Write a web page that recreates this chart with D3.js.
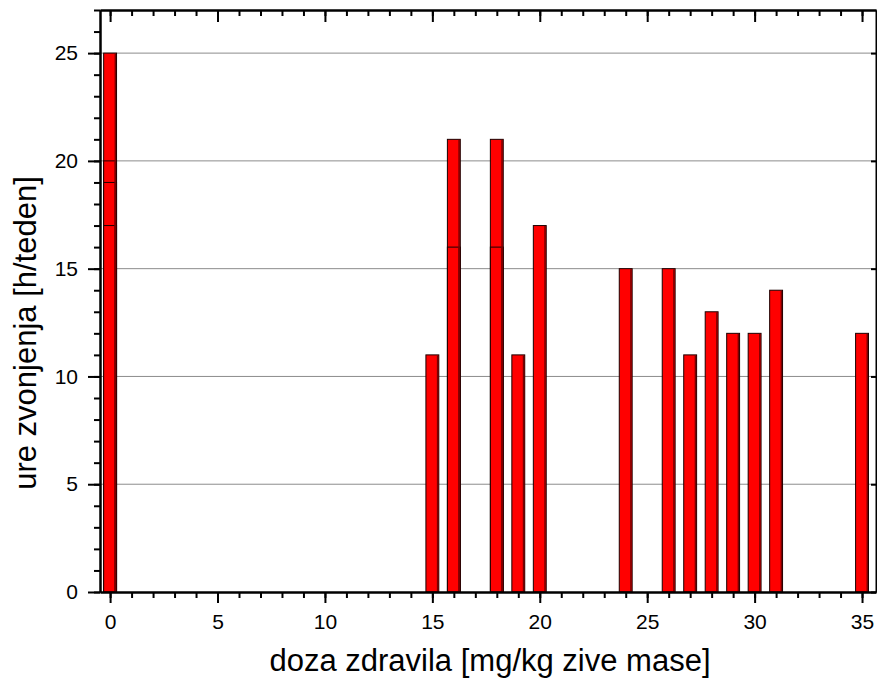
<!DOCTYPE html>
<html><head><meta charset="utf-8">
<script src="https://cdn.jsdelivr.net/npm/d3@7"></script>
<style>body{margin:0;background:#fff}svg{display:block;font-family:"Liberation Sans",Arial,sans-serif}</style>
</head><body><svg id="c" width="877" height="679"></svg>
<script>
const doses = [0,0,0,0,15,16,16,18,18,19,20,24,26,27,28,29,30,31,35];
const hours = [25,20,19,17,11,21,16,21,16,11,17,15,15,11,13,12,12,14,12];
const xTicks = [0,5,10,15,20,25,30,35];
const yTicks = [0,5,10,15,20,25];
const xMinor = d3.range(0,36,1);
const yMinor = d3.range(0,28,1);
const xTitle = "doza zdravila [mg/kg zive mase]";
const yTitle = "ure zvonjenja [h/teden]";

const svg = d3.select("#c");
const L=100,R=876,T=10,B=592;
const x = d3.scaleLinear().domain([-0.47,35.65]).range([L,R]);
const y = d3.scaleLinear().domain([0,27]).range([B,T]);
const barW = x(0.6)-x(0);

// grid
svg.append("g").selectAll("line").data(yTicks.filter(d=>d>0)).join("line")
  .attr("x1",L).attr("x2",R).attr("y1",d=>y(d)).attr("y2",d=>y(d))
  .attr("stroke","#8c8c8c").attr("stroke-width",1);

// bars
const data = doses.map((d,i)=>({x:d,v:hours[i]})).sort((a,b)=>b.v-a.v);
const bars = svg.append("g");
bars.selectAll("rect").data(data).join("rect")
  .attr("x",d=>x(d.x)-barW/2).attr("width",barW)
  .attr("y",d=>y(d.v)).attr("height",d=>y(0)-y(d.v))
  .attr("fill","#ff0000").attr("stroke","#1a0000").attr("stroke-width",1);
bars.selectAll("line").data(data).join("line")
  .attr("x1",d=>x(d.x)+barW/2-1.2).attr("x2",d=>x(d.x)+barW/2-1.2)
  .attr("y1",d=>y(d.v)+0.5).attr("y2",y(0))
  .attr("stroke","#7a0000").attr("stroke-width",1.5);

function styleAxis(g){
  g.selectAll("path.domain").attr("stroke","#000").attr("stroke-width",2);
  g.selectAll(".tick line").attr("stroke","#000").attr("stroke-width",2);
  g.selectAll("text").attr("font-size",21).attr("fill","#000").attr("font-family","Liberation Sans, Arial, sans-serif");
}
// bottom
svg.append("g").attr("transform",`translate(0,${B})`)
  .call(d3.axisBottom(x).tickValues(xMinor).tickSize(6).tickFormat("").tickSizeOuter(0)).call(styleAxis);
svg.append("g").attr("transform",`translate(0,${B})`)
  .call(d3.axisBottom(x).tickValues(xTicks).tickSize(11).tickPadding(11).tickFormat(d3.format("d")).tickSizeOuter(0)).call(styleAxis);
// top (inward)
svg.append("g").attr("transform",`translate(0,${T})`)
  .call(d3.axisTop(x).tickValues(xMinor).tickSize(-6).tickFormat("").tickSizeOuter(0)).call(styleAxis);
svg.append("g").attr("transform",`translate(0,${T})`)
  .call(d3.axisTop(x).tickValues(xTicks).tickSize(-12).tickFormat("").tickSizeOuter(0)).call(styleAxis);
// left
svg.append("g").attr("transform",`translate(${L},0)`)
  .call(d3.axisLeft(y).tickValues(yMinor).tickSize(6).tickFormat("").tickSizeOuter(0)).call(styleAxis);
svg.append("g").attr("transform",`translate(${L},0)`)
  .call(d3.axisLeft(y).tickValues(yTicks).tickSize(12).tickPadding(10).tickFormat(d3.format("d")).tickSizeOuter(0)).call(styleAxis);
// right (inward, major only)
svg.append("g").attr("transform",`translate(${R},0)`)
  .call(d3.axisRight(y).tickValues(yTicks).tickSize(-5).tickFormat("").tickSizeOuter(0)).call(styleAxis);

// titles
svg.append("text").attr("x",490).attr("y",671).attr("text-anchor","middle")
  .attr("font-size",31).attr("fill","#000").text(xTitle);
svg.append("text").attr("transform","translate(25,333) rotate(-90)").attr("text-anchor","middle")
  .attr("dominant-baseline","central").attr("font-size",31).attr("fill","#000").text(yTitle);
</script></body></html>
